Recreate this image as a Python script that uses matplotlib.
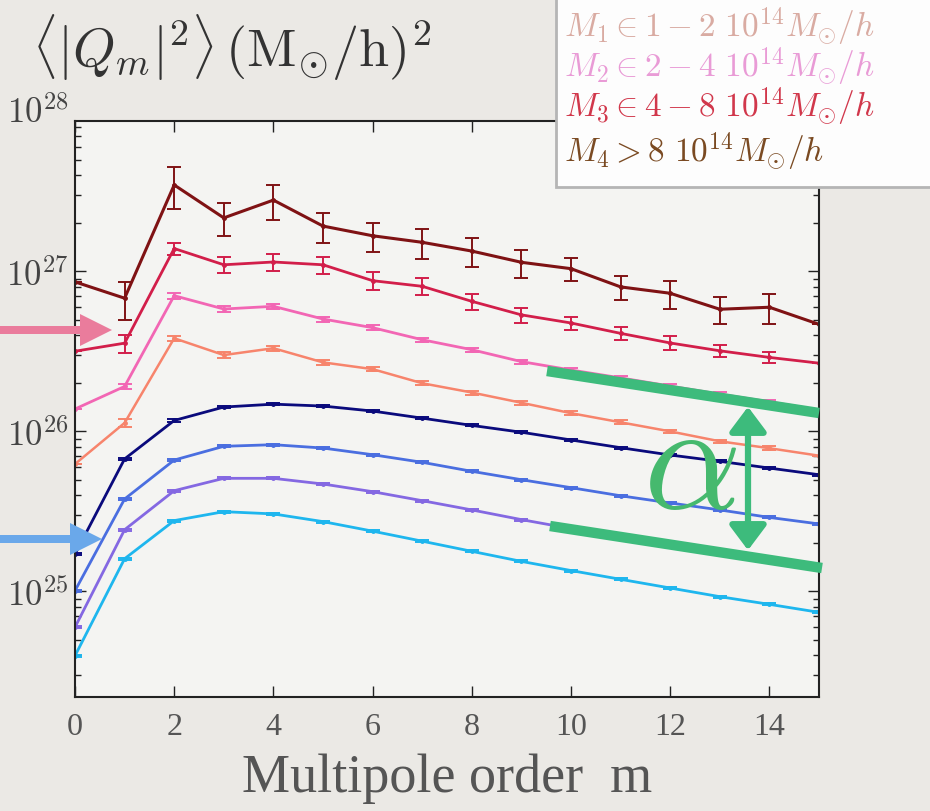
import numpy as np
import matplotlib.pyplot as plt
from matplotlib.ticker import FuncFormatter, LogLocator, NullFormatter
from matplotlib.patches import Rectangle, FancyArrow

plt.rcParams['mathtext.fontset'] = 'cm'

m = np.arange(16)

# upper group of curves (with errors)
q_m4 = [8.6e26, 6.8e26, 3.47e27, 2.16e27, 2.79e27, 1.92e27, 1.67e27, 1.52e27,
        1.34e27, 1.14e27, 1.04e27, 8.0e26, 7.3e26, 5.8e26, 5.97e26, 4.67e26]
q_m4_err = [0, 1.8e26, 1.0e27, 5.0e26, 7.0e26, 4.1e26, 3.5e26, 3.3e26,
            2.7e26, 2.3e26, 1.7e26, 1.35e26, 1.45e26, 1.1e26, 1.3e26, 0]
q_m3 = [3.17e26, 3.56e26, 1.39e27, 1.10e27, 1.145e27, 1.10e27, 8.75e26, 8.07e26,
        6.5e26, 5.35e26, 4.76e26, 4.1e26, 3.57e26, 3.19e26, 2.9e26, 2.67e26]
q_m3_err = [0, 4.7e25, 1.25e26, 1.25e26, 1.4e26, 1.3e26, 1.1e26, 9.8e25,
            7.7e25, 5.8e25, 4.4e25, 3.8e25, 3.5e25, 2.9e25, 2.2e25, 0]
q_m2 = [1.38e26, 1.91e26, 7.05e26, 5.82e26, 6.05e26, 5.04e26, 4.45e26, 3.74e26,
        3.24e26, 2.73e26, 2.42e26, 2.16e26, 1.92e26, 1.71e26, 1.53e26, 1.36e26]
q_m2_err = [0, 8e24, 3.0e25, 2.2e25, 2.2e25, 1.8e25, 1.5e25, 1.2e25,
            1.0e25, 8e24, 7e24, 6e24, 5e24, 5e24, 4e24, 0]
q_m1 = [6.25e25, 1.13e26, 3.82e26, 3.0e26, 3.31e26, 2.7e26, 2.45e26, 2.0e26,
        1.75e26, 1.51e26, 1.30e26, 1.14e26, 1.0e26, 8.67e25, 7.85e25, 7.05e25]
q_m1_err = [0, 7e24, 1.5e25, 1.2e25, 1.2e25, 9e24, 7e24, 6e24,
            5e24, 4e24, 3.5e24, 3e24, 2.5e24, 2e24, 2e24, 0]

# lower group of curves
p_m4 = [1.71e25, 6.73e25, 1.17e26, 1.42e26, 1.48e26, 1.44e26, 1.34e26, 1.21e26,
        1.09e26, 9.88e25, 8.84e25, 7.91e25, 7.12e25, 6.5e25, 5.9e25, 5.36e25]
p_m3 = [1.01e25, 3.78e25, 6.62e25, 8.07e25, 8.26e25, 7.87e25, 7.15e25, 6.41e25,
        5.63e25, 4.99e25, 4.45e25, 3.96e25, 3.57e25, 3.23e25, 2.9e25, 2.64e25]
p_m2 = [5.97e24, 2.43e25, 4.26e25, 5.09e25, 5.09e25, 4.69e25, 4.2e25, 3.69e25,
        3.23e25, 2.81e25, 2.47e25, 2.2e25, 1.98e25, 1.77e25, 1.59e25, 1.44e25]
p_m1 = [3.96e24, 1.6e25, 2.77e25, 3.15e25, 3.05e25, 2.73e25, 2.38e25, 2.06e25,
        1.78e25, 1.54e25, 1.35e25, 1.19e25, 1.05e25, 9.27e24, 8.3e24, 7.4e24]
p_rel_err = 0.015

legend_labels = [r'$M_1 \in 1-2\ 10^{14} M_{\odot}/h$',
                 r'$M_2 \in 2-4\ 10^{14} M_{\odot}/h$',
                 r'$M_3 \in 4-8\ 10^{14} M_{\odot}/h$',
                 r'$M_4 > 8\ 10^{14} M_{\odot}/h$']
legend_colors = ['#d9aba2', '#e99bd6', '#d1374b', '#7a4a22']

fig = plt.figure(figsize=(9.3, 8.12), dpi=100)
fig.patch.set_facecolor('#ebe9e5')
ax = fig.add_axes([75/930, 1-698/812, 744/930, 576/812])
ax.set_facecolor('#f4f4f2')

curves = [
    (q_m4, q_m4_err, '#7f1214', 2.2),
    (q_m3, q_m3_err, '#d21e4a', 2.0),
    (q_m2, q_m2_err, '#f266b4', 2.0),
    (q_m1, q_m1_err, '#f7846c', 1.8),
    (p_m4, None, '#0a0a7c', 2.0),
    (p_m3, None, '#4a6ee0', 2.0),
    (p_m2, None, '#8468e2', 2.0),
    (p_m1, None, '#1eb6ee', 2.0),
]
for vals, err, col, lw in curves:
    vals = np.array(vals)
    if err is None:
        err = vals * p_rel_err
    ax.errorbar(m, vals, yerr=err, color=col, lw=lw, marker='.', ms=5,
                capsize=5, capthick=1.4, elinewidth=1.4)

ax.set_yscale('log')
ax.set_xlim(0, 15)
ax.set_ylim(10**24.34, 10**27.94)
ax.set_xticks(np.arange(0, 15, 2))
ax.yaxis.set_major_locator(LogLocator(base=10))
ax.yaxis.set_minor_locator(LogLocator(base=10, subs=np.arange(2, 10)))
ax.yaxis.set_minor_formatter(NullFormatter())
ax.yaxis.set_major_formatter(FuncFormatter(lambda v, _: r'$10^{%d}$' % round(np.log10(v))))
ax.tick_params(which='both', direction='in', top=True, right=True, color='#222')
ax.tick_params(which='major', length=8, width=1)
ax.tick_params(which='minor', length=4, width=1)
ax.tick_params(axis='y', labelsize=25, labelcolor='#444', pad=5)
ax.tick_params(axis='x', labelsize=23, labelcolor='#555', pad=11)
for lab in ax.get_xticklabels():
    lab.set_fontfamily('Liberation Serif')
for sp in ax.spines.values():
    sp.set_linewidth(1.5)
    sp.set_color('#222')
ax.annotate(r'$10^{28}$', xy=(0, 1e28), xytext=(-5, 0), textcoords='offset points',
            ha='right', va='center', fontsize=25, color='#444', annotation_clip=False)
ax.set_xlabel('Multipole order  m', fontfamily='Liberation Serif', fontsize=39,
              color='#555', labelpad=8)

# overlay in figure pixels for the slide annotations
ov = fig.add_axes([0, 0, 1, 1])
ov.set_xlim(0, 930)
ov.set_ylim(812, 0)
ov.axis('off')
ov.patch.set_alpha(0)

ov.text(32, 48, r'$\langle|Q_m|^2\rangle\,(\mathrm{M}_{\odot}/\mathrm{h})^2$',
        fontsize=39, color='#333', va='center', ha='left')

ov.add_patch(Rectangle((556, -10), 400, 198, facecolor='#fdfdfd',
                       edgecolor='#b5b5b5', lw=2))
for i, (lab, col) in enumerate(zip(legend_labels, legend_colors)):
    ov.text(564, [27, 67, 107, 152][i], lab, fontsize=24, color=col,
            va='center', ha='left')

ov.add_patch(FancyArrow(0, 331, 112, 0, width=8, head_width=32, head_length=32,
                        length_includes_head=True, color='#ea7c9c', lw=0))
ov.add_patch(FancyArrow(0, 540, 102, 0, width=8, head_width=32, head_length=32,
                        length_includes_head=True, color='#6aa8ea', lw=0))

green = '#3dbb7c'
ov.plot([547, 819], [372, 414], color=green, lw=7.5, solid_capstyle='butt')
ov.plot([550, 822], [527, 569], color=green, lw=7.5, solid_capstyle='butt')
ov.annotate('', xy=(748, 405), xytext=(748, 554),
            arrowprops=dict(arrowstyle='<|-|>,head_length=0.6,head_width=0.45',
                            lw=4.5, color=green, mutation_scale=25))
ov.text(690, 466, r'$\alpha$', fontsize=110, color='#46b96e', ha='center', va='center')

fig.savefig('out.png', dpi=100, facecolor=fig.get_facecolor())
